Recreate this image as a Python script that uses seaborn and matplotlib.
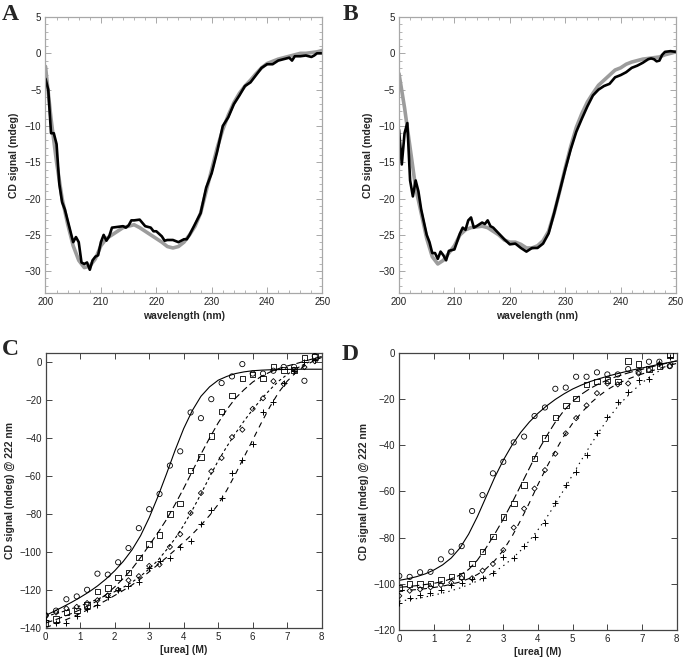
import matplotlib

matplotlib.use("Agg")
import matplotlib.pyplot as plt
from matplotlib.ticker import MultipleLocator
import seaborn as sns

# ---- panel A: CD spectra (grey = reference, black = variant) ----
wl_a_grey = [200, 201, 202, 203, 204, 205, 206, 207, 208, 209, 210, 211, 212, 213, 214, 215, 216, 217,
             218, 219, 220, 221, 222, 223, 224, 225, 226, 227, 228, 229, 230, 231, 232, 233, 234, 235,
             236, 237, 238, 239, 240, 241, 242, 243, 244, 245, 246, 247, 248, 249, 250]
cd_a_grey = [-1.8, -9, -15, -20, -23.5, -26.5, -28.5, -29.5, -29.3, -28.3, -26.5, -25.5, -25, -24.5, -24,
             -23.8, -23.6, -24, -24.5, -25, -25.5, -26, -26.6, -26.8, -26.6, -26, -25, -23.8, -22, -19,
             -16, -13, -10.5, -8.5, -6.8, -5.5, -4.5, -3.7, -2.8, -2, -1.4, -1.1, -0.8, -0.6, -0.4, -0.2,
             0, 0, 0.1, 0.2, 0.4]
wl_a_black = [200, 200.5, 201, 201.5, 202, 202.5, 203, 203.5, 204, 205, 205.5, 206, 206.5, 207, 207.5,
              208, 208.5, 209, 209.5, 210, 210.5, 211, 211.5, 212, 213, 214, 214.5, 215, 215.5, 216, 217,
              218, 219, 219.5, 220, 221, 221.5, 222, 223, 224, 225, 225.5, 226, 227, 228, 229, 230, 231,
              232, 233, 234, 235, 236, 237, 238, 239, 240, 241, 242, 243, 244, 244.5, 245, 246, 247,
              248, 248.5, 249, 250]
cd_a_black = [-3.5, -5, -11, -11, -12.5, -18, -20.5, -21.5, -23, -26, -25.3, -26, -28.8, -29, -28.8,
              -29.8, -28.5, -28, -27.8, -26, -25, -25.8, -25.2, -24, -23.9, -23.8, -24, -23.7, -23, -23,
              -22.9, -23.8, -24, -24.5, -24.5, -25.2, -25.8, -25.7, -25.7, -26, -25.6, -25.6, -25, -23.5,
              -22, -18.5, -16.5, -13.5, -10, -8.8, -7, -5.8, -4.5, -4, -3, -2, -1.5, -1.5, -1, -0.8,
              -0.6, -1, -0.4, -0.4, -0.3, -0.5, -0.3, 0, 0]

# ---- panel B ----
wl_b_grey = wl_a_grey
cd_b_grey = [-2.8, -7.5, -13, -18.5, -22, -25.5, -28, -29, -28.5, -27.5, -26.5, -25, -24.3, -24, -23.9,
             -23.8, -24, -24.5, -25, -25.7, -26, -26, -26.3, -26.8, -26.8, -26.5, -25.8, -24.5, -22, -19,
             -15.8, -12.8, -10.2, -8.3, -6.7, -5.5, -4.4, -3.7, -3, -2.3, -2, -1.5, -1.2, -1, -0.8, -0.7,
             -0.6, -0.5, -0.2, 0, 0.2]
wl_b_black = [200, 200.5, 201, 201.5, 202, 202.5, 203, 203.5, 204, 205, 205.5, 206, 206.5, 207, 207.5,
              208, 208.5, 209, 210, 211, 211.5, 212, 212.5, 213, 213.5, 214, 215, 215.5, 216, 216.5, 217,
              218, 219, 220, 221, 222, 223, 224, 225, 226, 227, 228, 229, 230, 231, 232, 233, 234, 235,
              236, 237, 238, 239, 240, 241, 242, 243, 244, 245, 245.5, 246, 246.5, 247, 247.5, 248, 249,
              250]
cd_b_black = [-10.5, -15.3, -11, -9.6, -17.5, -19.7, -17.5, -19, -21.5, -25, -26, -27.5, -27.5, -28.3,
              -27.3, -27.8, -28.5, -27.2, -27, -24.8, -24, -24.3, -23, -22.6, -24, -23.8, -23.3, -23.5,
              -23, -23.8, -24, -24.8, -25.6, -26.3, -26.2, -26.8, -27.3, -26.8, -26.8, -26.2, -24.8, -22,
              -19, -16, -13.2, -10.8, -9, -7.3, -5.8, -5, -4.5, -4.2, -3.3, -3, -2.6, -2, -1.7, -1.3,
              -0.8, -0.7, -0.8, -1.1, -1, -0.2, 0.2, 0.3, 0.2]

# ---- panels C and D: urea denaturation ----
urea_pts = [0, 0.3, 0.6, 0.9, 1.2, 1.5, 1.8, 2.1, 2.4, 2.7, 3.0, 3.3, 3.6, 3.9, 4.2, 4.5, 4.8, 5.1,
            5.4, 5.7, 6.0, 6.3, 6.6, 6.9, 7.2, 7.5, 7.8]
urea_fit = [0, 0.25, 0.5, 0.75, 1, 1.25, 1.5, 1.75, 2, 2.25, 2.5, 2.75, 3, 3.25, 3.5, 3.75, 4, 4.25,
            4.5, 4.75, 5, 5.25, 5.5, 5.75, 6, 6.25, 6.5, 6.75, 7, 7.25, 7.5, 7.75, 8]

c_circle = [-133.5, -131, -125, -123.5, -120, -111.5, -112, -105.5, -98, -87.5, -77.5, -69.5, -54.5,
            -47, -26.5, -29.5, -19.5, -11, -7.5, -1, -6, -6, -4.5, -2.5, -2.5, -9.8, 3.2]
c_square = [-137.5, -135.5, -132, -131, -128, -121, -119, -113.5, -111, -103, -96, -91, -80, -74.5,
            -57, -50, -39, -26, -17.5, -8.5, -6.5, -8.5, -2.5, -4, -4, 2.5, 3]
c_diamond = [-133.5, -132, -129.8, -129, -127, -125.5, -123, -120, -115, -112.8, -107.4, -106.7, -97.4,
             -90.7, -79.5, -69, -57.5, -50.5, -39.5, -35.6, -24.6, -19, -10, -11.5, -4, -2.6, 0.5]
c_cross = [-136, -137.7, -137.7, -134, -130, -128, -123.7, -120, -118, -115.8, -108.4, -104.7, -103,
           -97.5, -94.5, -85.5, -78, -71.5, -58.5, -51.5, -43, -26.5, -21, -11, -4.5, 0, 1]

c_circle_fit = [-133.5, -131.3, -129, -126.6, -124, -121.2, -118, -114.3, -110, -105, -99, -91.5, -82,
                -71, -59, -46.5, -35, -25.5, -18, -13, -9.5, -7.5, -6, -5.1, -4.5, -4.2, -4, -3.9,
                -3.8, -3.75, -3.7, -3.7, -3.7]
c_square_fit = [-137.5, -136, -134.3, -132.5, -130.5, -128.3, -125.8, -122.5, -118.5, -114, -109, -103,
                -96.5, -90, -83, -75, -66.5, -57.5, -48.5, -40, -32, -25, -19, -14.5, -10.5, -7.5,
                -5.2, -3.4, -2, -0.8, 0.5, 1.8, 3]
c_diamond_fit = [-134, -132.8, -131.5, -130, -128.5, -126.8, -125, -123, -121, -118.7, -116, -112.8,
                 -109, -104.5, -99, -93, -86, -78, -69.5, -60.5, -52, -44.5, -37.5, -31, -25, -19.5,
                 -14.5, -10, -6.5, -3.5, -1, 1, 2.5]
c_cross_fit = [-140, -138.2, -136.5, -134.5, -132.5, -130.3, -128, -125.6, -123, -120.3, -117.5, -114.2,
               -110.5, -106.8, -103, -99, -95, -90.7, -86, -80.8, -75, -67.5, -59, -50, -41, -32,
               -23.5, -16, -10, -5.5, -2, 0.5, 2.5]

d_circle = [-96.6, -97, -95, -94.8, -89.4, -86.1, -83.7, -68.5, -61.6, -52.2, -47.2, -38.8, -36.3,
            -27.4, -23.7, -15.6, -15.1, -10.4, -10.4, -8.5, -9.4, -9.4, -7.1, -8.2, -3.9, -3.9, -5.8]
d_square = [-101.7, -100.2, -100.2, -99.8, -98.4, -96.9, -96.6, -91.2, -86.1, -79.6, -71, -65.2,
            -57.3, -45.7, -36.8, -28, -22.8, -19.8, -13.7, -12.5, -11.8, -12.5, -3.6, -5, -7.1, -5.8, -1]
d_diamond = [-105.2, -103, -102.4, -101.5, -100.5, -99.5, -97.5, -97.6, -94.3, -91.4, -85.4, -75.7,
             -67.5, -58.8, -50.8, -43.7, -34.9, -28.3, -22.8, -17.5, -13.3, -13.7, -13.3, -9, -7.5,
             -5, -5.8]
d_cross = [-108.5, -106.3, -104.9, -103.8, -102.7, -100.5, -99.8, -98, -97.6, -95.5, -88.6, -89, -83.7,
           -79.6, -73.8, -65.2, -57.3, -51.5, -44.3, -34.9, -28, -21.2, -17.2, -11.8, -11.5, -4.3, -1.7]

d_circle_fit = [-98.5, -97.8, -96.9, -95.7, -94, -91.8, -88.8, -84.5, -78.5, -71, -62.5, -54, -46.5,
                -40, -34.5, -30, -26.2, -23, -20.2, -17.8, -15.7, -14, -12.5, -11.3, -10.2, -9.2, -8.3,
                -7.4, -6.6, -5.8, -5, -4.3, -3.6]
d_square_fit = [-101.5, -101.2, -100.8, -100.3, -99.8, -99, -97.8, -96.2, -93.8, -89.8, -84.5, -78.5,
                -72, -65, -57.5, -50, -42.5, -36, -30, -25, -21, -18, -15.5, -13.5, -11.8, -10.4, -9.2,
                -8.1, -7.2, -6.2, -5.3, -4.4, -3.5]
d_diamond_fit = [-103, -102.8, -102.5, -102.1, -101.6, -101, -100.2, -99.2, -97.8, -96, -93.5, -90,
                 -85.5, -79.5, -72.5, -65, -57, -49.5, -42.5, -36, -30.5, -26, -22, -18.8, -16, -13.8,
                 -12, -10.5, -9.2, -8, -6.8, -5.7, -4.6]
d_cross_fit = [-107.5, -107, -106.4, -105.7, -104.9, -104, -103, -101.8, -100.4, -98.8, -97, -94.8,
               -92.2, -89.2, -85.6, -81.4, -76.6, -71.3, -65.5, -59.2, -52.8, -46.5, -40.3, -34.4, -29,
               -24.2, -20, -16.3, -13, -10.2, -7.8, -5.7, -3.8]

sns.set_style("ticks")
plt.rcParams["font.family"] = ["Liberation Sans", "DejaVu Sans"]
plt.rcParams["lines.scale_dashes"] = False

LABEL_KW = dict(fontsize=7.5, fontweight="bold")


def style_box(ax, spine_color, major, minor=None):
    for spine in ax.spines.values():
        spine.set_visible(True)
        spine.set_color(spine_color)
        spine.set_linewidth(0.9)
    ax.tick_params(which="both", direction="in", top=True, right=True, color=spine_color,
                   labelsize=7, labelcolor="#222222", pad=3)
    ax.tick_params(which="major", length=4, width=0.7)
    ax.tick_params(which="minor", length=2, width=0.6)
    ax.xaxis.set_major_locator(MultipleLocator(major[0]))
    ax.yaxis.set_major_locator(MultipleLocator(major[1]))
    if minor:
        ax.xaxis.set_minor_locator(MultipleLocator(minor[0]))
        ax.yaxis.set_minor_locator(MultipleLocator(minor[1]))


def draw_spectrum(ax, wl_g, cd_g, wl_k, cd_k):
    sns.lineplot(x=wl_g, y=cd_g, ax=ax, color="#9c9c9c", linewidth=2.6)
    sns.lineplot(x=wl_k, y=cd_k, ax=ax, color="black", linewidth=1.9)
    ax.set_xlim(200, 250)
    ax.set_ylim(-33, 5)
    style_box(ax, "#a8a8a8", (10, 5), (2, 1))
    ax.set_xlabel("wavelength (nm)", labelpad=3, **LABEL_KW)
    ax.set_ylabel("CD signal (mdeg)", labelpad=4, **LABEL_KW)


def draw_urea(ax, points, fits, styles, ylim):
    markers = [("o", 14), ("s", 16), ("D", 7), ("+", 20)]
    for pts, fit, dash, (mk, size) in zip(points, fits, styles, markers):
        sns.lineplot(x=urea_fit, y=fit, ax=ax, color="black", linewidth=0.8, linestyle=dash)
        if mk == "+":
            sns.scatterplot(x=urea_pts, y=pts, ax=ax, marker=mk, s=size, color="black",
                            linewidth=0.7, zorder=3)
        else:
            sns.scatterplot(x=urea_pts, y=pts, ax=ax, marker=mk, s=size, facecolor="none",
                            edgecolor="black", linewidth=0.6, zorder=3)
    ax.set_xlim(0, 8)
    ax.set_ylim(*ylim)
    style_box(ax, "#444444", (1, 20))
    ax.set_xlabel("[urea] (M)", labelpad=2, **LABEL_KW)
    ax.set_ylabel("CD signal (mdeg) @ 222 nm", labelpad=3, **LABEL_KW)


fig = plt.figure(figsize=(6.85, 6.62), dpi=100)
ax_a = fig.add_axes([0.0664, 0.5574, 0.4044, 0.4169])
ax_b = fig.add_axes([0.5825, 0.5574, 0.4044, 0.4169])
ax_c = fig.add_axes([0.0667, 0.0518, 0.4029, 0.4154])
ax_d = fig.add_axes([0.5829, 0.0483, 0.4050, 0.4189])

draw_spectrum(ax_a, wl_a_grey, cd_a_grey, wl_a_black, cd_a_black)
draw_spectrum(ax_b, wl_b_grey, cd_b_grey, wl_b_black, cd_b_black)

draw_urea(ax_c, [c_circle, c_square, c_diamond, c_cross],
          [c_circle_fit, c_square_fit, c_diamond_fit, c_cross_fit],
          ["-", (0, (5, 2.5)), (0, (2, 2)), (0, (4, 3.5))], (-140, 5))
draw_urea(ax_d, [d_circle, d_square, d_diamond, d_cross],
          [d_circle_fit, d_square_fit, d_diamond_fit, d_cross_fit],
          ["-", (0, (6, 2.5)), (0, (4, 4)), (0, (1, 3))], (-120, 0))

letter_kw = dict(fontfamily=["Liberation Serif", "DejaVu Serif"], fontweight="bold", fontsize=17,
                 va="baseline", ha="left")
fig.text(0.003, 0.970, "A", **letter_kw)
fig.text(0.500, 0.970, "B", **letter_kw)
fig.text(0.003, 0.464, "C", **letter_kw)
fig.text(0.499, 0.456, "D", **letter_kw)

fig.savefig("out.png", dpi=100)
plt.close(fig)
